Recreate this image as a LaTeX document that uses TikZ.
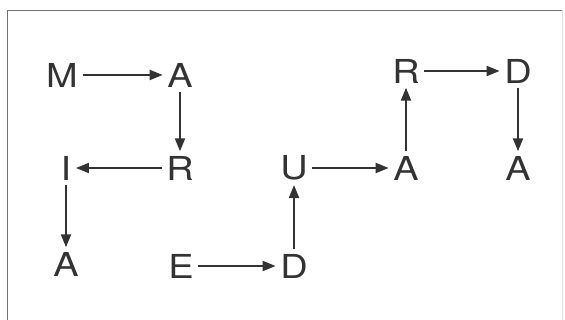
\documentclass[tikz,border=0pt]{standalone}
\usepackage{fontspec}
\setmainfont[FakeStretch=1.15]{TeX Gyre Heros}
\usetikzlibrary{arrows.meta}
\begin{document}
\begin{tikzpicture}[x=1pt,y=-1pt,
  letter/.style={font=\fontsize{33}{33}\selectfont, text=black!80, inner sep=4.5pt},
  arr/.style={draw=black!80, line width=2pt, -{Triangle[length=13pt,width=10pt]}},
  frame/.style={draw=black!55, line width=1.6pt}]
\useasboundingbox (0,0) rectangle (565,320);
\coordinate (fbl) at (7.5,320);
\coordinate (ftl) at (7.5,10.5);
\coordinate (ftr) at (562.5,10.5);
\coordinate (fbr) at (562.5,320);
\draw[frame] (fbl) -- (ftl) -- (ftr);
\draw[draw=black!12, line width=1pt] (ftr) -- (fbr);
% row 1
\node[letter] (m)  at (62,75)  {M};
\node[letter] (a1) at (180,75) {A};
\node[letter] (r2) at (406,71) {R};
\node[letter] (d2) at (518,71) {D};
% row 2
\node[letter] (i)  at (66,168)  {I};
\node[letter] (r1) at (180,168) {R};
\node[letter] (u)  at (294,168) {U};
\node[letter] (a3) at (406,168) {A};
\node[letter] (a4) at (518,168) {A};
% row 3
\node[letter] (a2) at (66,264)  {A};
\node[letter] (e)  at (181,266) {E};
\node[letter] (d1) at (294,266) {D};
% arrows
\draw[arr] (m) -- (a1);
\draw[arr] (a1) -- (r1);
\draw[arr] (r1) -- (i);
\draw[arr] (i) -- (a2);
\draw[arr] (e) -- (d1);
\draw[arr] (d1) -- (u);
\draw[arr] (u) -- (a3);
\draw[arr] (a3) -- (r2);
\draw[arr] (r2) -- (d2);
\draw[arr] (d2) -- (a4);
\end{tikzpicture}
\end{document}
